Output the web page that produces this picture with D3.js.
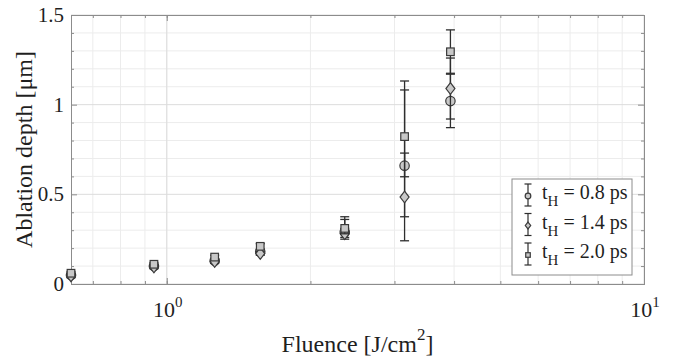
<!DOCTYPE html>
<html>
<head>
<meta charset="utf-8">
<script src="https://cdn.jsdelivr.net/npm/d3@7"></script>
</head>
<body style="margin:0">
<svg id="chart" width="674" height="363" font-family="Liberation Serif"></svg>
<script>
// fluence [J/cm^2]
const fluence = [0.63, 0.94, 1.26, 1.57, 2.36, 3.15, 3.93];

// ablation depth [um] and error bar bounds per pulse duration
const depth08 = [0.05, 0.10, 0.13, 0.18, 0.29, 0.66, 1.02];
const low08   = [0.04, 0.09, 0.12, 0.17, 0.26, 0.375, 0.872];
const high08  = [0.06, 0.11, 0.14, 0.19, 0.36, 1.132, 1.17];

const depth14 = [0.045, 0.095, 0.125, 0.17, 0.28, 0.485, 1.09];
const low14   = [0.035, 0.085, 0.115, 0.16, 0.25, 0.241, 0.92];
const high14  = [0.055, 0.105, 0.135, 0.18, 0.31, 0.73, 1.26];

const depth20 = [0.06, 0.11, 0.15, 0.21, 0.31, 0.822, 1.295];
const low20   = [0.05, 0.10, 0.14, 0.195, 0.28, 0.598, 1.175];
const high20  = [0.07, 0.12, 0.16, 0.225, 0.375, 1.082, 1.417];

const seriesNames = ['0.8', '1.4', '2.0'];
const yTicks = [0, 0.5, 1, 1.5];
const xTicks = [1, 10];

const series = [
  { name: seriesNames[0], shape: 'circle', y: depth08, lo: low08, hi: high08 },
  { name: seriesNames[1], shape: 'diamond', y: depth14, lo: low14, hi: high14 },
  { name: seriesNames[2], shape: 'square', y: depth20, lo: low20, hi: high20 }
];

const svg = d3.select('#chart');
const margin = { top: 15, right: 30, bottom: 79, left: 71 };
const width = 674, height = 363;
const plotBottom = height - margin.bottom;
const plotRight = width - margin.right;
const textColor = '#1f1f1f';

const xScale = d3.scaleLog()
  .domain([0.63, 10])
  .range([margin.left, plotRight]);

const yScale = d3.scaleLinear()
  .domain([0, 1.5])
  .range([plotBottom, margin.top]);

// minor / major grid
const xMinor = [];
for (let d = 0.7; d < 1; d += 0.1) xMinor.push(+d.toFixed(1));
for (let d = 2; d < 10; d++) xMinor.push(d);
const yMinor = d3.range(1, 15).map(d => d / 10).filter(d => !yTicks.includes(d));

const grid = svg.append('g').attr('class', 'grid');
grid.selectAll('.xminor').data(xMinor).enter().append('line')
  .attr('x1', d => xScale(d)).attr('x2', d => xScale(d))
  .attr('y1', margin.top).attr('y2', plotBottom)
  .attr('stroke', '#ececec').attr('stroke-width', 1);
grid.selectAll('.yminor').data(yMinor).enter().append('line')
  .attr('x1', margin.left).attr('x2', plotRight)
  .attr('y1', d => yScale(d)).attr('y2', d => yScale(d))
  .attr('stroke', '#ececec').attr('stroke-width', 1);
grid.selectAll('.xmajor').data(xTicks).enter().append('line')
  .attr('x1', d => xScale(d)).attr('x2', d => xScale(d))
  .attr('y1', margin.top).attr('y2', plotBottom)
  .attr('stroke', '#dcdcdc').attr('stroke-width', 1);
grid.selectAll('.ymajor').data(yTicks).enter().append('line')
  .attr('x1', margin.left).attr('x2', plotRight)
  .attr('y1', d => yScale(d)).attr('y2', d => yScale(d))
  .attr('stroke', '#dcdcdc').attr('stroke-width', 1);

// axes (ticks pointing inward, on all four sides)
const axisColor = '#8c8c8c';
const styleAxis = g => {
  g.select('.domain').attr('stroke', axisColor);
  g.selectAll('.tick line').attr('stroke', axisColor);
};
const addAxis = (axis, tx, ty) => svg.append('g')
  .attr('transform', `translate(${tx},${ty})`)
  .call(axis)
  .call(styleAxis);

addAxis(d3.axisBottom(xScale).tickValues(xMinor).tickSize(-3).tickFormat(''), 0, plotBottom);
addAxis(d3.axisBottom(xScale).tickValues(xTicks).tickSize(-6).tickSizeOuter(0).tickFormat(''), 0, plotBottom);
addAxis(d3.axisTop(xScale).tickValues(xMinor).tickSize(-3).tickFormat(''), 0, margin.top);
addAxis(d3.axisTop(xScale).tickValues(xTicks).tickSize(-6).tickSizeOuter(0).tickFormat(''), 0, margin.top);
addAxis(d3.axisLeft(yScale).tickValues(yMinor).tickSize(-3).tickFormat(''), margin.left, 0);
addAxis(d3.axisLeft(yScale).tickValues(yTicks).tickSize(-6).tickSizeOuter(0).tickFormat(''), margin.left, 0);
addAxis(d3.axisRight(yScale).tickValues(yMinor).tickSize(-3).tickFormat(''), plotRight, 0);
addAxis(d3.axisRight(yScale).tickValues(yTicks).tickSize(-6).tickSizeOuter(0).tickFormat(''), plotRight, 0);

// d3 axes set font-family="sans-serif" on their groups, so text goes on its own group
const labels = svg.append('g').attr('class', 'labels');

// tick labels
labels.selectAll('.ylabel').data(yTicks).enter().append('text')
  .attr('x', margin.left - 7)
  .attr('y', d => yScale(d) + 7)
  .attr('text-anchor', 'end')
  .attr('font-size', '21px')
  .attr('fill', textColor)
  .text(d => d);

const xLab = labels.selectAll('.xlabel').data(xTicks).enter().append('text')
  .attr('x', d => xScale(d) + 1)
  .attr('y', plotBottom + 33)
  .attr('text-anchor', 'middle')
  .attr('font-size', '22px')
  .attr('fill', textColor);
xLab.append('tspan').text('10');
xLab.append('tspan').attr('dy', -10).attr('font-size', '15px').text(d => Math.round(Math.log10(d)));

// axis titles
labels.append('text')
  .attr('transform', `translate(32,${(margin.top + plotBottom) / 2}) rotate(-90)`)
  .attr('text-anchor', 'middle')
  .attr('font-size', '24px')
  .attr('fill', textColor)
  .text('Ablation depth [μm]');

const xTitle = labels.append('text')
  .attr('x', (margin.left + plotRight) / 2)
  .attr('y', plotBottom + 68)
  .attr('text-anchor', 'middle')
  .attr('font-size', '24px')
  .attr('fill', textColor);
xTitle.append('tspan').text('Fluence [J/cm');
xTitle.append('tspan').attr('dy', -12).attr('font-size', '17px').text('2');
xTitle.append('tspan').attr('dy', 12).text(']');

// markers
const markerFill = '#c8c8c8';
const markerStroke = '#3a3a3a';
const barColor = '#2e2e2e';

function drawMarker(g, shape, cx, cy, s) {
  if (shape === 'circle') {
    g.append('circle').attr('cx', cx).attr('cy', cy).attr('r', 4.7 * s);
  } else if (shape === 'diamond') {
    const r = 5.8 * s, w = 4.5 * s;
    g.append('path').attr('d', `M${cx},${cy - r}L${cx + w},${cy}L${cx},${cy + r}L${cx - w},${cy}Z`);
  } else {
    const h = 3.8 * s;
    g.append('rect').attr('x', cx - h).attr('y', cy - h).attr('width', 2 * h).attr('height', 2 * h);
  }
  g.selectAll('circle,path,rect')
    .attr('fill', markerFill).attr('stroke', markerStroke).attr('stroke-width', 1.2);
}

series.forEach(s => {
  const g = svg.append('g').attr('class', 'series');
  fluence.forEach((f, i) => {
    const x = xScale(f);
    g.append('line')
      .attr('x1', x).attr('x2', x)
      .attr('y1', yScale(s.lo[i])).attr('y2', yScale(s.hi[i]))
      .attr('stroke', barColor).attr('stroke-width', 1.3);
    [s.lo[i], s.hi[i]].forEach(v => {
      g.append('line')
        .attr('x1', x - 4.5).attr('x2', x + 4.5)
        .attr('y1', yScale(v)).attr('y2', yScale(v))
        .attr('stroke', barColor).attr('stroke-width', 1.3);
    });
  });
  fluence.forEach((f, i) => {
    drawMarker(g.append('g'), s.shape, xScale(f), yScale(s.y[i]), 1);
  });
});

// legend
const legend = svg.append('g').attr('transform', 'translate(512,179)');
legend.append('rect')
  .attr('width', 120).attr('height', 96)
  .attr('fill', '#fff').attr('stroke', '#8c8c8c').attr('stroke-width', 1);

series.forEach((s, i) => {
  const base = 20 + i * 29.5;
  const cy = base - 4;
  const item = legend.append('g');
  item.append('line').attr('x1', 16).attr('x2', 16).attr('y1', cy - 11).attr('y2', cy + 11)
    .attr('stroke', barColor).attr('stroke-width', 1.2);
  [cy - 11, cy + 11].forEach(v => {
    item.append('line').attr('x1', 12.5).attr('x2', 19.5).attr('y1', v).attr('y2', v)
      .attr('stroke', barColor).attr('stroke-width', 1.2);
  });
  drawMarker(item.append('g'), s.shape, 16, cy + 1, 0.6);

  const t = item.append('text')
    .attr('x', 30).attr('y', base)
    .attr('font-size', '20px')
    .attr('fill', textColor);
  t.append('tspan').text('t');
  t.append('tspan').attr('dy', 7).attr('font-size', '15px').text('H');
  t.append('tspan').attr('dy', -7).text(` = ${s.name} ps`);
});
</script>
</body>
</html>
